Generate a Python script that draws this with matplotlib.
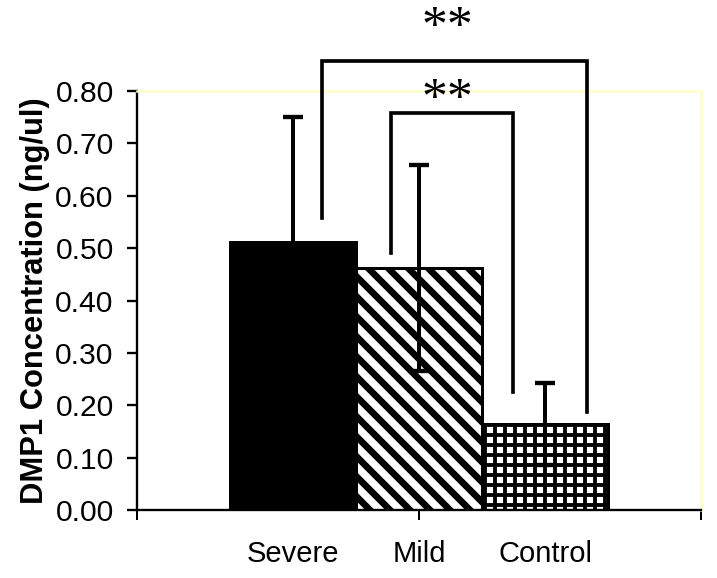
import numpy as np
import matplotlib.pyplot as plt
from matplotlib.ticker import FormatStrFormatter

plt.rcParams['font.family'] = ['Liberation Sans', 'DejaVu Sans']

# data
groups = ['Severe', 'Mild', 'Control']
means = [0.511, 0.462, 0.164]
errors = [0.239, 0.196, 0.078]
hatches = ['', '\\\\', '++']
faces = ['black', 'white', 'white']

# significance brackets: x of the two legs, top height, leg bottoms
bracket_x = [(0.656, 1.596), (0.901, 1.333)]
bracket_top = [0.857, 0.758]
bracket_ends = [(0.5575, 0.187), (0.491, 0.225)]
bracket_labels = ['**', '**']
star_x = 1.099
star_y = [0.893, 0.756]

width = 0.447
pos = np.array([1 - width, 1, 1 + width])

fig = plt.figure(figsize=(717 / 120, 578 / 120), dpi=120)
ax = fig.add_axes([137 / 717, 1 - 510 / 578, 564 / 717, 419 / 578])

bars = ax.bar(pos, means, width=width, color=faces, edgecolor='black',
              linewidth=1.8, zorder=2)
hatch_lw = [1.0, 4.0, 2.3]
for b, h, lw in zip(bars, hatches, hatch_lw):
    b.set_hatch(h)
    if hasattr(b, 'set_hatch_linewidth'):
        b.set_hatch_linewidth(lw)

ax.errorbar(pos, means, yerr=errors, fmt='none', ecolor='black',
            elinewidth=2.4, capsize=6, capthick=2.6, zorder=3)

# brackets
for (x0, x1), top, (e0, e1), lab, sy in zip(bracket_x, bracket_top, bracket_ends,
                                             bracket_labels, star_y):
    ax.plot([x0, x0, x1, x1], [e0, top, top, e1], color='black', lw=2.2,
            clip_on=False, zorder=4, solid_joinstyle='miter')
    ax.text(star_x, sy, lab, ha='center', va='baseline', fontsize=31,
            family='Liberation Serif', clip_on=False)

ax.set_xlim(0, 2)
ax.set_ylim(0, 0.8)
ax.set_yticks(np.arange(0, 0.81, 0.1))
ax.yaxis.set_major_formatter(FormatStrFormatter('%.2f'))
ax.xaxis.remove_overlapping_locs = False
ax.set_xticks([0, 1, 2])
ax.set_xticklabels([])
ax.set_xticks(pos, minor=True)
ax.set_xticklabels(groups, minor=True)
ax.tick_params(axis='x', which='minor', length=0, pad=18, labelsize=17.5)
ax.tick_params(axis='x', which='major', length=6, width=1.2, direction='out')
ax.tick_params(axis='y', length=6, width=1.4, direction='out', pad=8, labelsize=18)

ax.set_ylabel('DMP1 Concentration (ng/ul)', fontsize=18.5, fontweight='bold', labelpad=3)

for s in ['left', 'bottom']:
    ax.spines[s].set_linewidth(1.4)
for s in ['top', 'right']:
    ax.spines[s].set_color('#FFFFC8')
    ax.spines[s].set_linewidth(1.5)

fig.savefig('out.png', dpi=120)
